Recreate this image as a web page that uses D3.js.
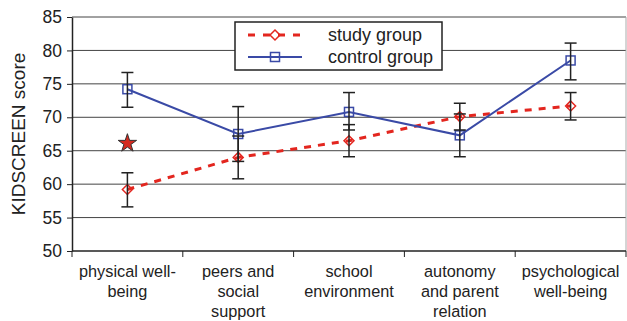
<!DOCTYPE html>
<html>
<head>
<meta charset="utf-8">
<script src="https://cdn.jsdelivr.net/npm/d3@7"></script>
<style>
    body { margin: 0; background: #fff; }
    svg text { font-family: "Liberation Sans", Arial, sans-serif; fill: #222; }
</style>
</head>
<body>
<svg id="chart" width="627" height="321"></svg>
<script>
// data
var categories = [
    ["physical well-", "being"],
    ["peers and", "social", "support"],
    ["school", "environment"],
    ["autonomy", "and parent", "relation"],
    ["psychological", "well-being"]
];
var study_mean = [59.2, 64.0, 66.5, 70.1, 71.7];
var study_lo = [56.6, 60.8, 64.1, 68.1, 69.6];
var study_hi = [61.7, 67.2, 68.9, 72.1, 73.7];
var control_mean = [74.2, 67.5, 70.8, 67.3, 78.5];
var control_lo = [71.5, 63.4, 68.1, 64.1, 75.6];
var control_hi = [76.7, 71.6, 73.7, 70.5, 81.1];
var y_ticks = [50, 55, 60, 65, 70, 75, 80, 85];
var star_value = 66.1; // marked value for physical well-being

var margin = {top: 17, right: 1, bottom: 70, left: 72},
    outer_width = 627, outer_height = 321,
    width = outer_width - margin.left - margin.right,
    height = outer_height - margin.top - margin.bottom;

var red = "#e3261f", blue = "#3a4aa6", ink = "#222";

var svg = d3.select("#chart"),
    g = svg.append("g").attr("transform", "translate(" + margin.left + "," + margin.top + ")");

var x = d3.scaleBand().domain(d3.range(categories.length)).range([0, width]);
var y = d3.scaleLinear().domain([50, 85]).range([height, 0]);
var cx = function (i) { return x(i) + x.bandwidth() / 2; };

// grid lines
g.append("g")
    .selectAll("line").data(y_ticks.slice(1)).enter().append("line")
    .attr("x1", 0).attr("x2", width)
    .attr("y1", function (d) { return y(d); }).attr("y2", function (d) { return y(d); })
    .attr("stroke", "#444").attr("stroke-width", 1);

// right border
g.append("line")
    .attr("x1", width).attr("x2", width).attr("y1", 0).attr("y2", height)
    .attr("stroke", "#aaa");

// y axis
var y_axis = g.append("g")
    .call(d3.axisLeft(y).tickValues(y_ticks).tickSize(5).tickSizeOuter(0));
y_axis.select(".domain").attr("stroke", ink).attr("stroke-width", 1.5);
y_axis.selectAll(".tick line").attr("stroke", ink);
y_axis.selectAll(".tick text").attr("font-size", 17.5).attr("x", -10).style("fill", ink);

// x axis
var x_axis = g.append("g").attr("transform", "translate(0," + height + ")");
x_axis.append("line").attr("x1", 0).attr("x2", width).attr("stroke", ink).attr("stroke-width", 1.5);
x_axis.selectAll("line.tk").data(d3.range(categories.length + 1)).enter().append("line")
    .attr("class", "tk")
    .attr("x1", function (i) { return i * x.bandwidth(); })
    .attr("x2", function (i) { return i * x.bandwidth(); })
    .attr("y1", 0).attr("y2", 6)
    .attr("stroke", ink);

x_axis.selectAll("text.cat").data(categories).enter().append("text")
    .attr("class", "cat")
    .attr("text-anchor", "middle")
    .attr("font-size", 16.3)
    .attr("transform", function (d, i) { return "translate(" + cx(i) + ",0)"; })
    .each(function (lines) {
        var t = d3.select(this);
        lines.forEach(function (s, k) {
            t.append("tspan").attr("x", 0).attr("y", 26 + k * 20).text(s);
        });
    });

// y label
svg.append("text")
    .attr("transform", "translate(25," + (margin.top + height / 2) + ") rotate(-90)")
    .attr("text-anchor", "middle")
    .attr("font-size", 19)
    .text("KIDSCREEN score");

// lines
var line = d3.line().x(function (d, i) { return cx(i); }).y(function (d) { return y(d); });

g.append("path").datum(study_mean)
    .attr("d", line).attr("fill", "none")
    .attr("stroke", red).attr("stroke-width", 3).attr("stroke-dasharray", "7,7");

g.append("path").datum(control_mean)
    .attr("d", line).attr("fill", "none")
    .attr("stroke", blue).attr("stroke-width", 2);

// markers
function diamond(sel, px, py) {
    sel.append("path")
        .attr("d", "M" + px + "," + (py - 5) + "L" + (px + 5) + "," + py + "L" + px + "," + (py + 5) + "L" + (px - 5) + "," + py + "Z")
        .attr("fill", "none").attr("stroke", red).attr("stroke-width", 1.5);
}
function square(sel, px, py) {
    sel.append("rect")
        .attr("x", px - 4.5).attr("y", py - 4.5).attr("width", 9).attr("height", 9)
        .attr("fill", "none").attr("stroke", blue).attr("stroke-width", 1.5);
}

study_mean.forEach(function (v, i) { diamond(g, cx(i), y(v)); });
control_mean.forEach(function (v, i) { square(g, cx(i), y(v)); });

// error bars
function errorBars(lo, hi) {
    var eb = g.append("g").attr("stroke", ink).attr("stroke-width", 1.5);
    lo.forEach(function (l, i) {
        var px = cx(i);
        eb.append("line").attr("x1", px).attr("x2", px).attr("y1", y(l)).attr("y2", y(hi[i]));
        eb.append("line").attr("x1", px - 6).attr("x2", px + 6).attr("y1", y(l)).attr("y2", y(l));
        eb.append("line").attr("x1", px - 6).attr("x2", px + 6).attr("y1", y(hi[i])).attr("y2", y(hi[i]));
    });
}
errorBars(study_lo, study_hi);
errorBars(control_lo, control_hi);

// star
var star = d3.symbol().type(d3.symbolStar).size(105);
g.append("path")
    .attr("d", star())
    .attr("transform", "translate(" + cx(0) + "," + y(star_value) + ")")
    .attr("fill", "#d42a1f").attr("stroke", "#333").attr("stroke-width", 1);

// legend
var lg = svg.append("g").attr("transform", "translate(235,22)");
lg.append("rect").attr("width", 207).attr("height", 48)
    .attr("fill", "#fff").attr("stroke", ink).attr("stroke-width", 1.5);
lg.append("line").attr("x1", 13).attr("x2", 67).attr("y1", 13).attr("y2", 13)
    .attr("stroke", red).attr("stroke-width", 3).attr("stroke-dasharray", "7,8");
diamond(lg, 40, 13);
lg.append("line").attr("x1", 13).attr("x2", 67).attr("y1", 35).attr("y2", 35)
    .attr("stroke", blue).attr("stroke-width", 2);
square(lg, 40, 35);
lg.append("text").attr("x", 93).attr("y", 19).attr("font-size", 18).text("study group");
lg.append("text").attr("x", 93).attr("y", 41).attr("font-size", 18).text("control group");
</script>
</body>
</html>
